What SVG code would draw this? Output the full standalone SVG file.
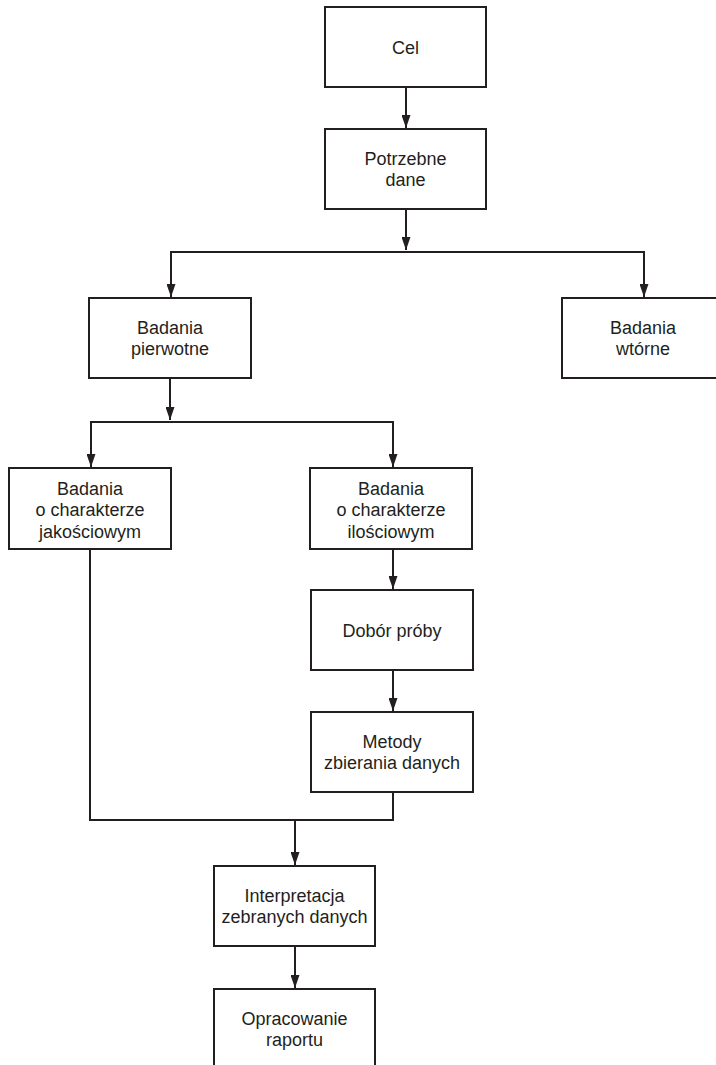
<svg xmlns="http://www.w3.org/2000/svg" width="716" height="1065" viewBox="0 0 716 1065">
<style>
.box{fill:#fff;stroke:#231f20;stroke-width:2}
.lbl{font-family:"Liberation Sans",Arial,sans-serif;font-size:18px;fill:#231f20;text-anchor:middle}
.con{fill:none;stroke:#231f20;stroke-width:2}
</style>
<defs>
<marker id="ah" viewBox="0 0 13 9" refX="13" refY="4.5" markerWidth="13" markerHeight="9" markerUnits="userSpaceOnUse" orient="auto">
<path d="M0,0 L13,4.5 L0,9 z" fill="#231f20"/>
</marker>
</defs>
<rect width="716" height="1065" fill="#fff"/>
<g id="connectors">
<line class="con" x1="406" y1="87" x2="406" y2="128" marker-end="url(#ah)"/>
<line class="con" x1="406" y1="209" x2="406" y2="250" marker-end="url(#ah)"/>
<polyline class="con" points="171,297 171,252 644,252 644,297"/>
<line class="con" x1="171" y1="252" x2="171" y2="297" marker-end="url(#ah)"/>
<line class="con" x1="644" y1="252" x2="644" y2="297" marker-end="url(#ah)"/>
<line class="con" x1="170" y1="378" x2="170" y2="420" marker-end="url(#ah)"/>
<polyline class="con" points="91,467 91,422 393,422 393,467"/>
<line class="con" x1="91" y1="422" x2="91" y2="467" marker-end="url(#ah)"/>
<line class="con" x1="393" y1="422" x2="393" y2="467" marker-end="url(#ah)"/>
<line class="con" x1="393" y1="549" x2="393" y2="589" marker-end="url(#ah)"/>
<line class="con" x1="393" y1="670" x2="393" y2="711" marker-end="url(#ah)"/>
<polyline class="con" points="90,549 90,820 393,820 393,792"/>
<line class="con" x1="295" y1="820" x2="295" y2="865" marker-end="url(#ah)"/>
<line class="con" x1="295" y1="946" x2="295" y2="988" marker-end="url(#ah)"/>
</g>
<g id="cel">
<rect class="box" x="325" y="7" width="161" height="80"/>
<text class="lbl" x="405.5" y="53.5">Cel</text>
</g>
<g id="potrzebne-dane">
<rect class="box" x="325" y="129" width="161" height="80"/>
<text class="lbl" x="405.5" y="164.5">Potrzebne</text>
<text class="lbl" x="405.5" y="186">dane</text>
</g>
<g id="badania-pierwotne">
<rect class="box" x="89" y="298" width="162" height="80"/>
<text class="lbl" x="170" y="333.5">Badania</text>
<text class="lbl" x="170" y="355">pierwotne</text>
</g>
<g id="badania-wtorne">
<rect class="box" x="562" y="298" width="162" height="80"/>
<text class="lbl" x="643" y="333.5">Badania</text>
<text class="lbl" x="643" y="355">wtórne</text>
</g>
<g id="jakosciowe">
<rect class="box" x="9" y="468" width="162" height="81"/>
<text class="lbl" x="90" y="494.5">Badania</text>
<text class="lbl" x="90" y="516">o charakterze</text>
<text class="lbl" x="90" y="537.5">jakościowym</text>
</g>
<g id="ilosciowe">
<rect class="box" x="310" y="468" width="162" height="81"/>
<text class="lbl" x="391" y="494.5">Badania</text>
<text class="lbl" x="391" y="516">o charakterze</text>
<text class="lbl" x="391" y="537.5">ilościowym</text>
</g>
<g id="dobor-proby">
<rect class="box" x="311" y="590" width="162" height="80"/>
<text class="lbl" x="392" y="636.5">Dobór próby</text>
</g>
<g id="metody">
<rect class="box" x="311" y="712" width="162" height="80"/>
<text class="lbl" x="392" y="747.5">Metody</text>
<text class="lbl" x="392" y="769">zbierania danych</text>
</g>
<g id="interpretacja">
<rect class="box" x="214" y="866" width="161" height="80"/>
<text class="lbl" x="294.5" y="901.5">Interpretacja</text>
<text class="lbl" x="294.5" y="923">zebranych danych</text>
</g>
<g id="opracowanie">
<rect class="box" x="214" y="989" width="161" height="80"/>
<text class="lbl" x="294.5" y="1024.5">Opracowanie</text>
<text class="lbl" x="294.5" y="1046">raportu</text>
</g>
</svg>
